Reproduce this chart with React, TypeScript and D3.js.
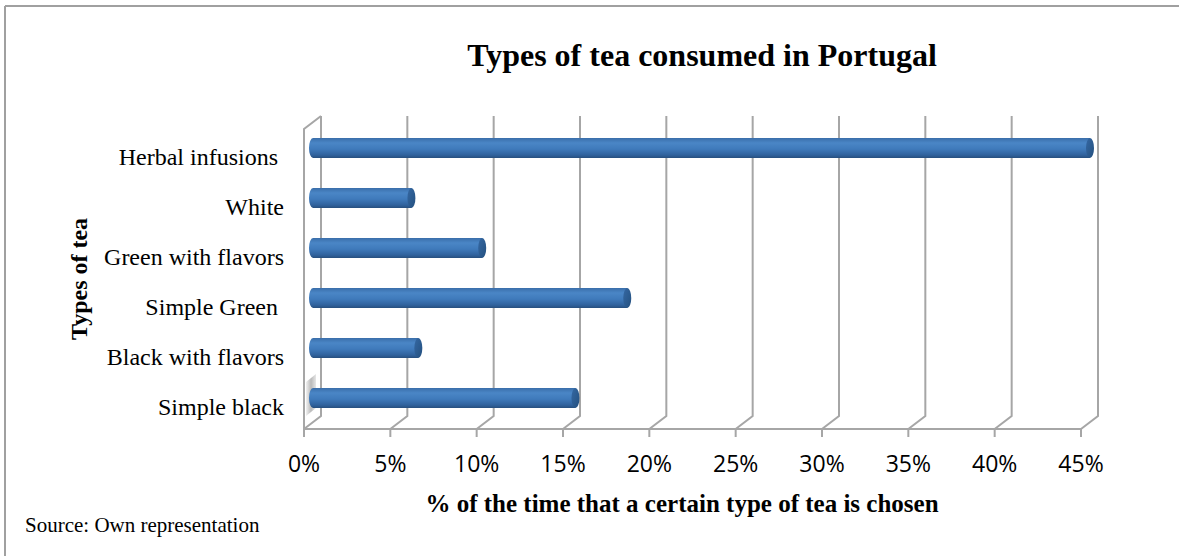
import React from "react";
import * as d3 from "d3";

const categories = [
  "Herbal infusions ",
  "White",
  "Green with flavors",
  "Simple Green ",
  "Black with flavors",
  "Simple black",
];
const values = [45, 5.7, 9.8, 18.2, 6.1, 15.2];
const tickValues = [0, 5, 10, 15, 20, 25, 30, 35, 40, 45];
const title = "Types of tea consumed in Portugal";
const xTitle = "% of the time that a certain type of tea is chosen";
const yTitle = "Types of tea";
const source = "Source: Own representation";

const W = 1179;
const H = 556;

export default function App() {
  const front = d3.scaleLinear().domain([0, 45]).range([304, 1081]);
  const DX = 17;
  const DY = 13;
  const floorY = 429;
  const backTop = 116;
  const barX = d3.scaleLinear().domain([0, 45]).range([304 + 9, 1081 + 9]);
  const y = d3
    .scaleBand<string>()
    .domain(categories)
    .range([123, 423])
    .paddingInner(0.6)
    .paddingOuter(0.3);
  const bw = y.bandwidth();
  const grid = "#A6A6A6";
  const serif = "'Liberation Serif', 'Times New Roman', serif";
  const yLast = y(categories[5]) as number;

  return (
    <svg
      width={W}
      height={H}
      style={{ position: "absolute", left: 0, top: 0, background: "#fff" }}
    >
      <defs>
        <linearGradient id="cyl" x1="0" y1="0" x2="0" y2="1">
          <stop offset="0%" stopColor="#3A6EAA" />
          <stop offset="25%" stopColor="#4A86C6" />
          <stop offset="55%" stopColor="#3F7ABB" />
          <stop offset="85%" stopColor="#30629D" />
          <stop offset="100%" stopColor="#274F7E" />
        </linearGradient>
        <linearGradient id="cap" x1="0" y1="0" x2="1" y2="1">
          <stop offset="0%" stopColor="#3568A3" />
          <stop offset="100%" stopColor="#24507F" />
        </linearGradient>
        <linearGradient id="shadow" x1="0" y1="0" x2="1" y2="0">
          <stop offset="0%" stopColor="#EEEEEE" />
          <stop offset="50%" stopColor="#A8A8A8" />
          <stop offset="100%" stopColor="#E0E0E0" />
        </linearGradient>
      </defs>

      {/* outer frame */}
      <line x1={5} y1={6} x2={W} y2={6} stroke="#A0A0A0" strokeWidth={2} />
      <line x1={5} y1={6} x2={5} y2={H} stroke="#A0A0A0" strokeWidth={2} />

      <text
        x={702}
        y={66}
        textAnchor="middle"
        fontFamily={serif}
        fontWeight="bold"
        fontSize={32}
      >
        {title}
      </text>

      {/* left wall */}
      <path
        d={`M${front(0)},${floorY} V${backTop + DY} L${front(0) + DX},${backTop}`}
        fill="none"
        stroke={grid}
        strokeWidth={2}
      />
      {/* floor front line */}
      <line
        x1={front(0)}
        x2={front(45)}
        y1={floorY}
        y2={floorY}
        stroke={grid}
        strokeWidth={2}
      />
      {tickValues.map((t) => (
        <g key={t}>
          <path
            d={`M${front(t)},${floorY} L${front(t) + DX},${floorY - DY} V${backTop}`}
            fill="none"
            stroke={grid}
            strokeWidth={2}
          />
          <line
            x1={front(t)}
            x2={front(t)}
            y1={floorY}
            y2={floorY + 8}
            stroke={grid}
            strokeWidth={2}
          />
          <text
            x={front(t)}
            y={472}
            textAnchor="middle"
            fontFamily="'Open Sans', sans-serif"
            fontSize={23}
            fill="#000"
          >
            {t}%
          </text>
        </g>
      ))}

      {/* shadow of bottom bar on left wall */}
      <path
        d={`M${front(0) + 2},${yLast - 6} L${front(0) + 12},${yLast - 14} V${yLast + bw} L${front(0) + 2},${yLast + bw + 8} Z`}
        fill="url(#shadow)"
        opacity={0.8}
      />

      {/* bars */}
      {categories.map((c, i) => {
        const y0 = y(c) as number;
        const cy = y0 + bw / 2;
        const x0 = barX(0);
        const x1 = barX(values[i]);
        const rx = 4;
        return (
          <g key={c}>
            <path
              d={`M${x0},${y0} H${x1} V${y0 + bw} H${x0} A${rx},${bw / 2} 0 0 1 ${x0},${y0} Z`}
              fill="url(#cyl)"
            />
            <ellipse cx={x1} cy={cy} rx={rx} ry={bw / 2} fill="url(#cap)" />
          </g>
        );
      })}

      {/* category labels */}
      {categories.map((c) => (
        <text
          key={c}
          x={284}
          y={(y(c) as number) + bw / 2 + 17}
          textAnchor="end"
          fontFamily={serif}
          fontSize={24}
          style={{ whiteSpace: "pre" }}
        >
          {c}
        </text>
      ))}

      <text
        transform={`translate(87,279) rotate(-90)`}
        textAnchor="middle"
        fontFamily={serif}
        fontWeight="bold"
        fontSize={24}
      >
        {yTitle}
      </text>

      <text
        x={682}
        y={512}
        textAnchor="middle"
        fontFamily={serif}
        fontWeight="bold"
        fontSize={25}
      >
        {xTitle}
      </text>

      <text x={25} y={532} fontFamily={serif} fontSize={21}>
        {source}
      </text>
    </svg>
  );
}
